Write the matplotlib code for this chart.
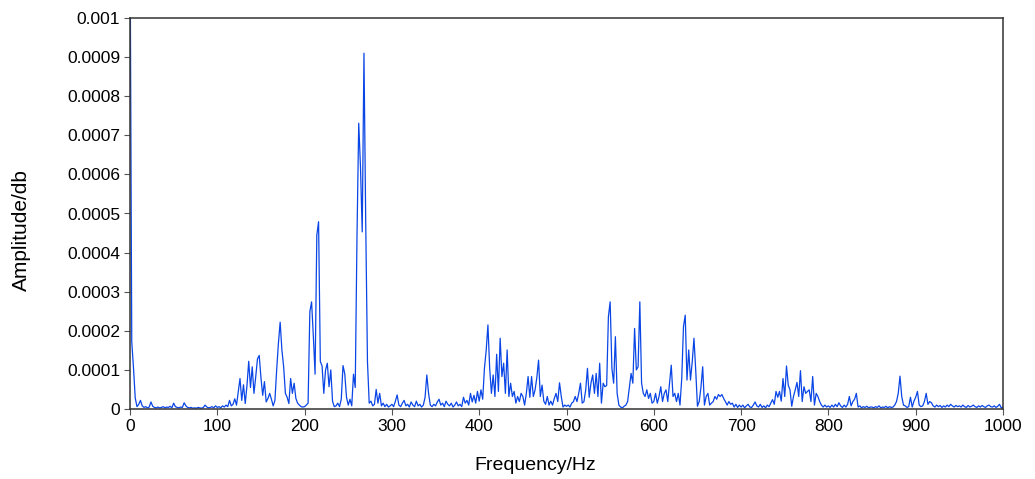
import matplotlib

matplotlib.use("Agg")
import matplotlib.pyplot as plt
import numpy as np
from matplotlib.ticker import FuncFormatter, MultipleLocator

# spectrum amplitude, one value every 2 Hz, in units of 1e-6 (50 Hz per block)
FREQ_STEP = 2
band_000 = [1250, 172, 105, 28, 6, 12, 22, 8, 4, 6, 3, 5, 18, 7, 4, 3, 5, 3, 4, 6, 3, 5, 4, 7, 3]
band_050 = [15, 6, 4, 3, 5, 4, 16, 8, 4, 3, 4, 2, 3, 2, 4, 3, 2, 4, 10, 5, 3, 4, 6, 3, 8]
band_100 = [4, 6, 3, 8, 5, 10, 6, 22, 8, 12, 26, 10, 45, 78, 22, 62, 14, 60, 122, 55, 108, 40, 82, 128, 137]
band_150 = [80, 35, 70, 18, 27, 40, 25, 8, 22, 100, 168, 222, 151, 108, 40, 30, 14, 78, 40, 66, 27, 15, 10, 6, 5]
band_200 = [6, 10, 15, 249, 274, 187, 89, 445, 479, 122, 110, 40, 100, 117, 57, 100, 20, 6, 8, 15, 6, 25, 111, 90, 30]
band_250 = [10, 25, 8, 89, 55, 440, 731, 620, 453, 910, 479, 122, 15, 20, 8, 12, 50, 15, 40, 8, 15, 6, 12, 5, 8]
band_300 = [12, 6, 20, 36, 10, 6, 15, 22, 8, 12, 5, 18, 10, 6, 20, 8, 12, 5, 10, 30, 87, 40, 10, 6, 12]
band_350 = [8, 18, 25, 10, 15, 6, 20, 12, 8, 15, 5, 10, 18, 8, 12, 6, 30, 15, 22, 10, 40, 18, 35, 15, 45]
band_400 = [20, 49, 25, 104, 150, 215, 104, 40, 87, 32, 140, 45, 181, 83, 117, 40, 151, 32, 66, 32, 45, 15, 32, 19, 40]
band_450 = [32, 10, 40, 83, 30, 83, 32, 49, 80, 125, 32, 61, 20, 12, 32, 10, 20, 10, 27, 40, 19, 67, 32, 5, 10]
band_500 = [7, 10, 5, 15, 19, 32, 19, 40, 66, 15, 19, 49, 104, 30, 66, 87, 40, 91, 32, 117, 15, 66, 57, 60, 236]
band_550 = [274, 104, 66, 185, 40, 10, 5, 3, 7, 10, 19, 55, 91, 66, 206, 100, 108, 274, 66, 40, 32, 49, 27, 40, 15]
band_600 = [19, 40, 15, 32, 57, 19, 40, 49, 19, 66, 112, 32, 40, 19, 40, 10, 78, 211, 240, 74, 151, 74, 120, 181, 100]
band_650 = [7, 19, 55, 108, 10, 32, 40, 10, 15, 19, 32, 25, 37, 32, 37, 27, 19, 10, 19, 12, 15, 5, 12, 4, 10]
band_700 = [5, 10, 3, 8, 12, 5, 4, 10, 18, 8, 5, 12, 4, 8, 3, 10, 6, 15, 24, 12, 45, 30, 45, 20, 78]
band_750 = [32, 110, 61, 49, 7, 32, 49, 68, 32, 98, 19, 57, 40, 45, 49, 19, 83, 10, 40, 32, 19, 10, 5, 10, 5]
band_800 = [8, 4, 10, 5, 12, 6, 16, 8, 4, 10, 5, 12, 32, 8, 19, 25, 40, 5, 8, 3, 6, 4, 7, 3, 5]
band_850 = [5, 3, 6, 4, 8, 3, 5, 4, 7, 3, 6, 4, 5, 10, 19, 40, 84, 32, 10, 8, 4, 6, 30, 5, 20]
band_900 = [30, 45, 10, 6, 8, 19, 40, 12, 19, 16, 8, 5, 10, 6, 9, 4, 8, 5, 10, 6, 12, 8, 5, 9, 6]
band_950 = [8, 5, 10, 6, 4, 9, 5, 7, 10, 6, 4, 8, 5, 9, 6, 4, 8, 10, 6, 5, 8, 4, 7, 12, 3, 5]

bands = [band_000, band_050, band_100, band_150, band_200, band_250, band_300,
         band_350, band_400, band_450, band_500, band_550, band_600, band_650,
         band_700, band_750, band_800, band_850, band_900, band_950]

amp = np.concatenate([np.asarray(b, dtype=float) for b in bands]) * 1e-6
freq = np.arange(amp.size) * FREQ_STEP

plt.rcParams["font.family"] = ["Liberation Sans", "DejaVu Sans"]

fig = plt.figure(figsize=(10.35, 4.79), dpi=100)
ax = fig.add_axes([130 / 1035, 70 / 479, 873 / 1035, 391 / 479])

ax.plot(freq, amp, color="#0a46e6", lw=0.9)

ax.set_xlim(0, 1000)
ax.set_ylim(0, 0.001)
ax.xaxis.set_major_locator(MultipleLocator(100))
ax.yaxis.set_major_locator(MultipleLocator(0.0001))
ax.yaxis.set_major_formatter(FuncFormatter(lambda v, _: f"{v:.4f}".rstrip("0").rstrip(".") if v else "0"))

for s in ax.spines.values():
    s.set_color("#333333")
    s.set_linewidth(1.1)
ax.tick_params(direction="out", length=4, width=0.8, color="#555555",
               labelsize=12.5, pad=3, top=False, right=False)

ax.set_xlabel("Frequency/Hz", fontsize=14)
ax.set_ylabel("Amplitude/db", fontsize=15)
ax.xaxis.set_label_coords((535 - 130) / 873, -0.122)
ax.yaxis.set_label_coords(-0.113, 0.458)

fig.savefig("out.png", dpi=100)
